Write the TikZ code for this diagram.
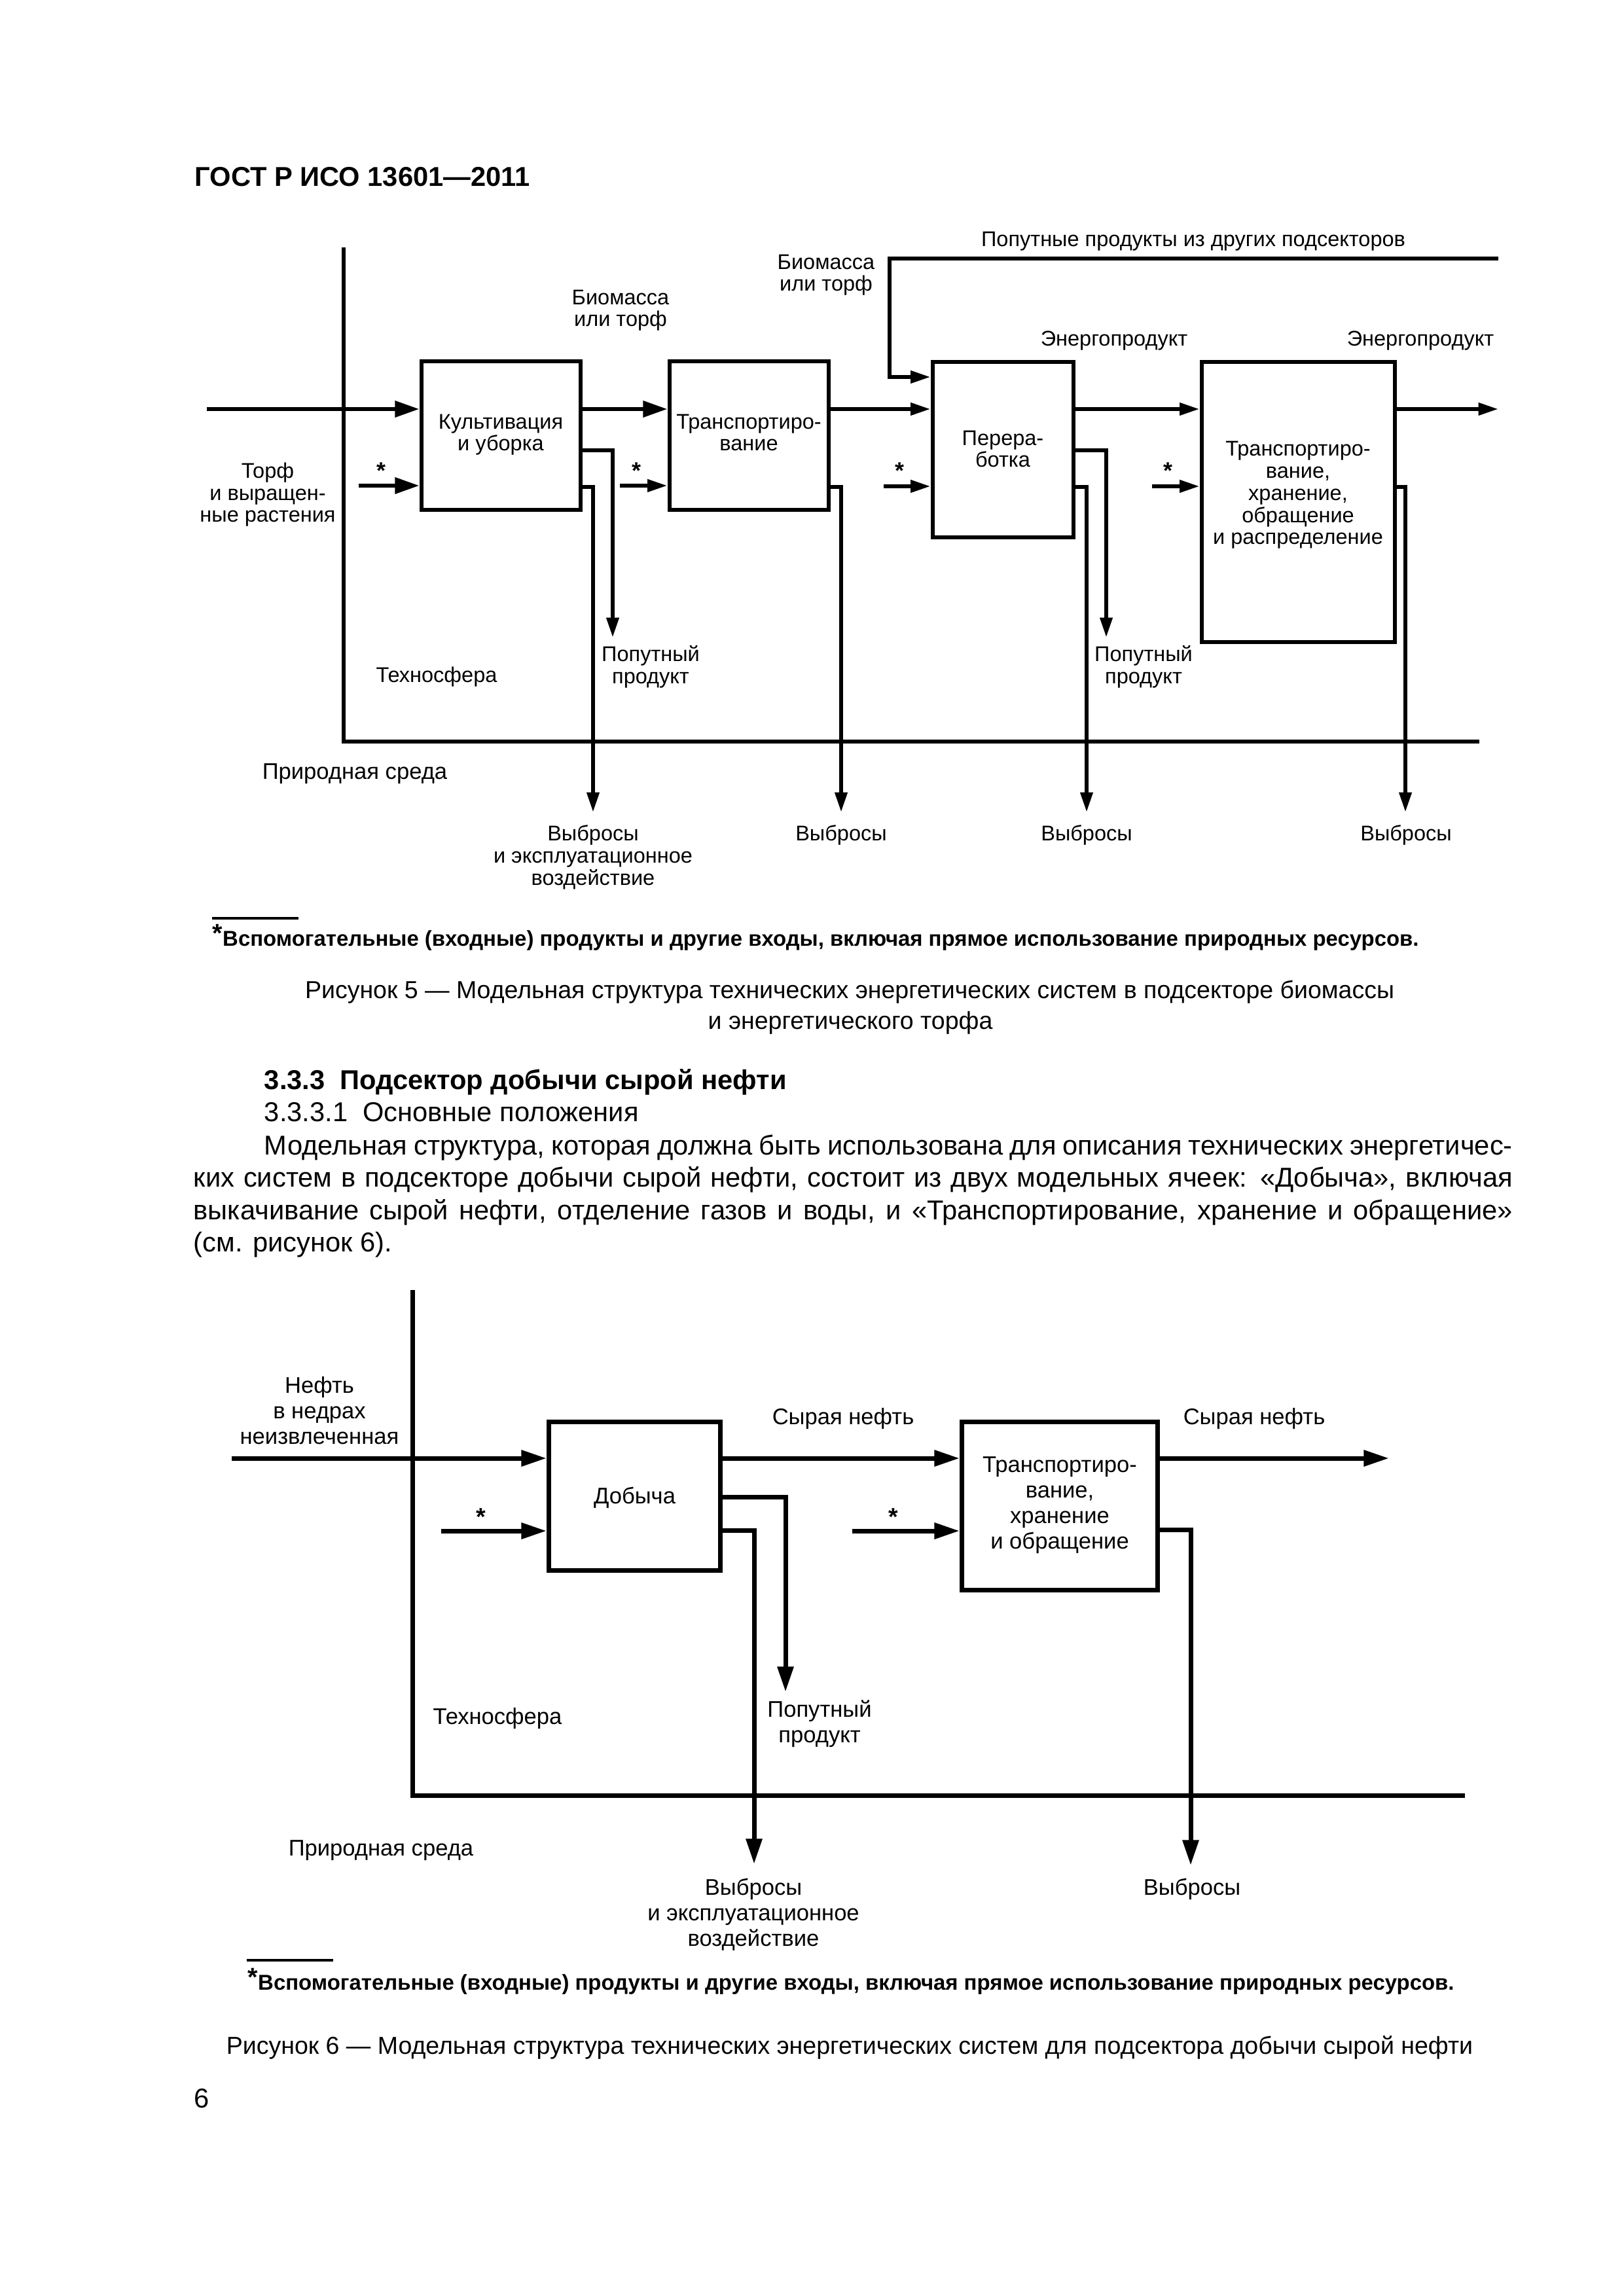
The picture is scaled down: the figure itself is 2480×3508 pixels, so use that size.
\documentclass[tikz,border=0pt]{standalone}
\usepackage{fontspec}
\setmainfont{Liberation Sans}
\usetikzlibrary{arrows.meta}
\begin{document}
\begin{tikzpicture}[x=0.24pt,y=-0.24pt,
  fa/.style={font=\fontsize{7.8}{8.1}\selectfont},
  fb/.style={font=\fontsize{8.3}{9.3}\selectfont},
  lbl/.style={inner sep=0pt, anchor=base, align=center},
  starA/.style={inner sep=0pt, anchor=base, font=\fontsize{8.6}{9}\selectfont\bfseries},
  starB/.style={inner sep=0pt, anchor=base, font=\fontsize{9}{9}\selectfont\bfseries},
  lA/.style={line width=1.44pt, line join=miter},
  lB/.style={line width=1.68pt, line join=miter},
  boxA/.style={draw, line width=1.44pt, inner sep=0pt},
  boxB/.style={draw, line width=1.68pt, inner sep=0pt},
  bigarr/.style={-{Triangle[length=8.9pt,width=5.8pt]}},
  smallarr/.style={-{Triangle[length=7.3pt,width=4.4pt]}},
  fig6arr/.style={-{Triangle[length=9.3pt,width=5.7pt]}},
  foot/.style={inner sep=0pt, anchor=base west, font=\fontsize{7.9}{10}\selectfont\bfseries},
  capt/.style={inner sep=0pt, anchor=base, font=\fontsize{9}{11}\selectfont},
  body/.style={inner sep=0pt, anchor=base west, font=\fontsize{10}{12}\selectfont}
]
\useasboundingbox (0,0) rectangle (2480,3508);
\fill[white] (0,0) rectangle (2480,3508);

% header
\node[inner sep=0pt, anchor=base west, font=\fontsize{10}{12}\selectfont\bfseries] (hdr) at (297,285) {ГОСТ Р ИСО 13601—2011};

% ================= Figure 5 =================
\node[boxA, minimum width=243*0.24pt, minimum height=227*0.24pt] (b1) at (765,666) {};
\node[boxA, minimum width=243*0.24pt, minimum height=227*0.24pt] (b2) at (1144,666) {};
\node[boxA, minimum width=215*0.24pt, minimum height=268*0.24pt] (b3) at (1532,687.5) {};
\node[boxA, minimum width=295*0.24pt, minimum height=427*0.24pt] (b4) at (1983,767) {};

\node[fa,lbl] (t1) at (765,689) {Культивация\\и уборка};
\node[fa,lbl] (t2) at (1144,689) {Транспортиро-\\вание};
\node[fa,lbl] (t3) at (1532,714) {Перера-\\ботка};
\node[fa,lbl] (t4) at (1983,832) {Транспортиро-\\вание,\\хранение,\\обращение\\и распределение};

% boundary
\coordinate (v5t) at (525,378);
\coordinate (v5b) at (525,1133);
\coordinate (h5r) at (2260,1133);
\draw[lA] (v5t) -- (v5b) -- (h5r);

% main flow
\coordinate (in5) at (316,625);
\coordinate (out5) at (2289,625);
\draw[lA,bigarr] (in5) -- (in5 -| b1.west);
\draw[lA,bigarr] (b1.east |- in5) -- (b2.west |- in5);
\draw[lA,smallarr] (b2.east |- in5) -- (b3.west |- in5);
\draw[lA,smallarr] (b3.east |- in5) -- (b4.west |- in5);
\draw[lA,smallarr] (b4.east |- in5) -- (out5);

% auxiliary inputs
\coordinate (s1) at (548,742);
\coordinate (s2) at (947,742);
\coordinate (s3) at (1350,743);
\coordinate (s4) at (1760,743);
\draw[lA,bigarr] (s1) -- (s1 -| b1.west);
\draw[lA,smallarr] (s2) -- (s2 -| b2.west);
\draw[lA,smallarr] (s3) -- (s3 -| b3.west);
\draw[lA,smallarr] (s4) -- (s4 -| b4.west);
\node[starA] (st1) at (582,732) {*};
\node[starA] (st2) at (972,732) {*};
\node[starA] (st3) at (1374,732) {*};
\node[starA] (st4) at (1784,732) {*};

% biomass from other subsectors
\coordinate (top5) at (2289,395);
\coordinate (bm) at (1359,395);
\coordinate (bmin) at (1359,576);
\draw[lA,smallarr] (top5) -- (bm) -- (bmin) -- (bmin -| b3.west);

% by-products
\coordinate (bp1) at (936,974);
\coordinate (bp3) at (1690,974);
\draw[lA,smallarr] (b1.east |- 0,688) -| (bp1);
\draw[lA,smallarr] (b3.east |- 0,688) -| (bp3);

% emissions
\coordinate (e1) at (906,1241);
\coordinate (e2) at (1285,1241);
\coordinate (e3) at (1660,1241);
\coordinate (e4) at (2147,1241);
\draw[lA,smallarr] (b1.east |- 0,744) -| (e1);
\draw[lA,smallarr] (b2.east |- 0,744) -| (e2);
\draw[lA,smallarr] (b3.east |- 0,744) -| (e3);
\draw[lA,smallarr] (b4.east |- 0,744) -| (e4);

% labels
\node[fa,lbl] (l1) at (1823,377) {Попутные продукты из других подсекторов};
\node[fa,lbl] (l2) at (1262,445) {Биомасса\\или торф};
\node[fa,lbl] (l3) at (948,499) {Биомасса\\или торф};
\node[fa,lbl] (l4) at (1702,529) {Энергопродукт};
\node[fa,lbl] (l5) at (2170,529) {Энергопродукт};
\node[fa,lbl] (l6) at (409,798) {Торф\\и выращен-\\ные растения};
\node[fa,lbl] (l7) at (994,1044) {Попутный\\продукт};
\node[fa,lbl] (l8) at (1747,1044) {Попутный\\продукт};
\node[fa,lbl] (l9) at (667,1042) {Техносфера};
\node[lbl,font=\fontsize{8.3}{9}\selectfont] (l10) at (542,1190) {Природная среда};
\node[fa,lbl] (l11) at (906,1352) {Выбросы\\и эксплуатационное\\воздействие};
\node[fa,lbl] (l12) at (1285,1284) {Выбросы};
\node[fa,lbl] (l13) at (1660,1284) {Выбросы};
\node[fa,lbl] (l14) at (2148,1284) {Выбросы};

% footnote & caption
\coordinate (fr5a) at (324,1403);
\coordinate (fr5b) at (456,1403);
\draw[line width=1pt] (fr5a) -- (fr5b);
\node[foot] (fn5) at (324,1445) {\raisebox{1.4pt}{\fontsize{9.5}{10}\selectfont *}Вспомогательные (входные) продукты и другие входы, включая прямое использование природных ресурсов.};
\node[capt] (cap5a) at (1298,1525) {Рисунок 5 — Модельная структура технических энергетических систем в подсекторе биомассы};
\node[capt] (cap5b) at (1299,1572) {и энергетического торфа};

% ================= Text =================
\node[body,font=\fontsize{10}{12}\selectfont\bfseries] (h333) at (403,1664) {3.3.3\ \ Подсектор добычи сырой нефти};
\node[body] (h3331) at (403,1713) {3.3.3.1\ \ Основные положения};
\node[body] (p1) at (403,1764) {\hbox to 457.7pt{Модельная структура, которая должна быть использована для описания технических энергетичес-}};
\node[body] (p2) at (295,1813) {\hbox to 483.6pt{ких систем в подсекторе добычи сырой нефти, состоит из двух модельных ячеек: «Добыча», включая}};
\node[body] (p3) at (295,1863) {\hbox to 483.6pt{выкачивание сырой нефти, отделение газов и воды, и «Транспортирование, хранение и обращение»}};
\node[body] (p4) at (295,1912) {(см. рисунок 6).};

% ================= Figure 6 =================
\node[boxB, minimum width=262*0.24pt, minimum height=227*0.24pt] (c1) at (969.5,2286) {};
\node[boxB, minimum width=299*0.24pt, minimum height=257*0.24pt] (c2) at (1619,2301) {};
\node[fb,lbl] (u1) at (969.5,2297) {Добыча};
\node[fb,lbl] (u2) at (1619,2366) {Транспортиро-\\вание,\\хранение\\и обращение};

\coordinate (v6t) at (630,1971);
\coordinate (v6b) at (630,2743);
\coordinate (h6r) at (2238,2743);
\draw[lB] (v6t) -- (v6b) -- (h6r);

\coordinate (in6) at (354,2228);
\coordinate (out6) at (2122,2228);
\draw[lB,fig6arr] (in6) -- (in6 -| c1.west);
\draw[lB,fig6arr] (c1.east |- in6) -- (c2.west |- in6);
\draw[lB,fig6arr] (c2.east |- in6) -- (out6);

\coordinate (r1) at (674,2339);
\coordinate (r2) at (1302,2339);
\draw[lB,fig6arr] (r1) -- (r1 -| c1.west);
\draw[lB,fig6arr] (r2) -- (r2 -| c2.west);
\node[starB] (sr1) at (735,2330) {*};
\node[starB] (sr2) at (1365,2330) {*};

\coordinate (bp6) at (1200,2585);
\draw[lB,fig6arr] (c1.east |- 0,2287) -| (bp6);
\coordinate (e61) at (1152,2848);
\coordinate (e62) at (1819,2850);
\draw[lB,fig6arr] (c1.east |- 0,2338) -| (e61);
\draw[lB,fig6arr] (c2.east |- 0,2337) -| (e62);

\node[fb,lbl] (m1) at (488,2206) {Нефть\\в недрах\\неизвлеченная};
\node[fb,lbl] (m2) at (1288,2176) {Сырая нефть};
\node[fb,lbl] (m3) at (1916,2176) {Сырая нефть};
\node[fb,lbl] (m4) at (760,2634) {Техносфера};
\node[fb,lbl] (m5) at (1252,2662) {Попутный\\продукт};
\node[fb,lbl] (m6) at (582,2835) {Природная среда};
\node[fb,lbl] (m7) at (1151,2973) {Выбросы\\и эксплуатационное\\воздействие};
\node[fb,lbl] (m8) at (1821,2895) {Выбросы};

\coordinate (fr6a) at (377,2995);
\coordinate (fr6b) at (509,2995);
\draw[line width=1pt] (fr6a) -- (fr6b);
\node[foot] (fn6) at (378,3040) {\raisebox{1.4pt}{\fontsize{9.5}{10}\selectfont *}Вспомогательные (входные) продукты и другие входы, включая прямое использование природных ресурсов.};
\node[capt] (cap6) at (1298,3138) {Рисунок 6 — Модельная структура технических энергетических систем для подсектора добычи сырой нефти};
\node[inner sep=0pt, anchor=base west, font=\fontsize{10}{12}\selectfont] (pg) at (296,3220) {6};
\end{tikzpicture}
\end{document}
